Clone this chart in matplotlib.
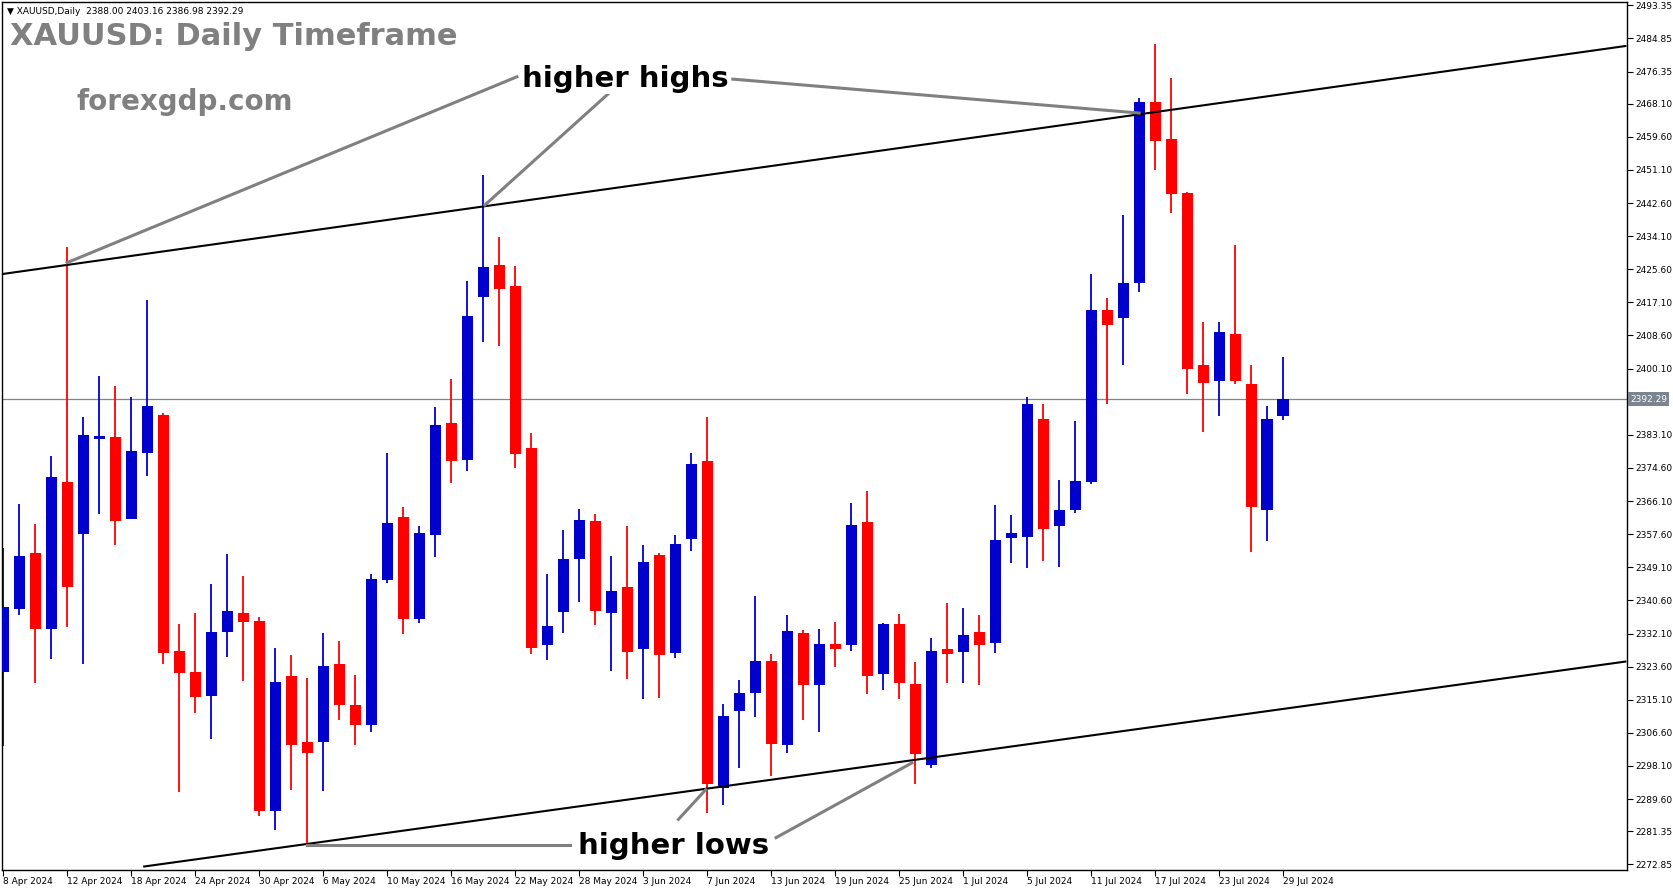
import numpy as np
import matplotlib.pyplot as plt

# OHLC daily values XAUUSD, 8 Apr 2024 -> 29 Jul 2024
opens = [2322.2, 2338.3, 2352.8, 2333.3, 2371.0, 2357.7, 2382.0, 2382.5, 2361.6, 2378.4,
         2388.2, 2327.6, 2322.2, 2316.1, 2332.4, 2337.4, 2335.3, 2286.5, 2321.2, 2304.3,
         2304.3, 2324.3, 2313.8, 2308.7, 2345.9, 2362.0, 2335.9, 2357.5, 2386.1, 2376.7,
         2418.6, 2426.7, 2421.3, 2379.7, 2329.2, 2337.7, 2351.3, 2361.0, 2337.4, 2344.0,
         2328.2, 2352.3, 2327.1, 2356.4, 2376.4, 2292.5, 2312.3, 2316.9, 2325.0, 2303.6,
         2332.2, 2319.0, 2329.4, 2329.2, 2360.7, 2321.6, 2334.6, 2319.1, 2298.3, 2328.2,
         2327.4, 2332.5, 2329.7, 2356.7, 2357.0, 2387.1, 2359.6, 2363.8, 2371.1, 2415.2,
         2413.2, 2422.1, 2468.5, 2459.0, 2445.2, 2401.0, 2396.8, 2409.0, 2396.1, 2363.8,
         2388.00]
highs = [2354.0, 2365.4, 2360.2, 2377.7, 2431.4, 2387.7, 2398.2, 2395.6, 2392.9, 2417.7,
         2388.7, 2334.5, 2337.4, 2344.8, 2352.5, 2346.9, 2336.4, 2328.4, 2326.6, 2320.7,
         2332.2, 2330.2, 2321.4, 2347.4, 2378.4, 2364.6, 2359.7, 2390.2, 2397.4, 2422.6,
         2449.8, 2433.9, 2426.4, 2383.6, 2347.4, 2358.7, 2364.1, 2362.8, 2352.1, 2359.7,
         2354.8, 2352.8, 2357.4, 2378.4, 2387.7, 2314.0, 2320.2, 2341.7, 2326.8, 2336.9,
         2333.0, 2333.3, 2335.1, 2365.6, 2368.7, 2334.8, 2337.1, 2324.9, 2330.9, 2339.9,
         2338.6, 2336.9, 2365.2, 2362.5, 2392.8, 2391.0, 2371.5, 2386.6, 2424.4, 2418.2,
         2439.5, 2469.5, 2483.5, 2474.7, 2445.4, 2412.1, 2412.1, 2431.7, 2401.0, 2390.6,
         2403.16]
lows = [2303.2, 2336.9, 2319.3, 2325.5, 2333.8, 2324.4, 2362.7, 2354.7, 2361.6, 2372.6,
        2324.4, 2291.5, 2311.8, 2305.1, 2326.2, 2320.0, 2285.2, 2281.7, 2292.0, 2277.5,
        2291.8, 2310.0, 2303.5, 2306.7, 2345.1, 2332.1, 2334.9, 2351.8, 2370.8, 2373.8,
        2407.0, 2406.0, 2374.7, 2326.9, 2325.4, 2332.3, 2340.3, 2334.4, 2322.6, 2320.5,
        2315.2, 2315.6, 2325.9, 2353.3, 2286.1, 2288.0, 2297.7, 2310.8, 2295.6, 2301.5,
        2310.0, 2306.7, 2323.6, 2327.7, 2316.7, 2317.7, 2315.4, 2293.4, 2297.5, 2319.4,
        2319.4, 2318.9, 2327.1, 2350.3, 2348.8, 2350.8, 2349.3, 2363.0, 2370.5, 2391.1,
        2401.1, 2419.8, 2451.2, 2440.1, 2393.6, 2383.7, 2388.0, 2396.1, 2353.1, 2355.8,
        2386.98]
closes = [2338.8, 2352.1, 2333.3, 2372.2, 2344.0, 2383.1, 2382.8, 2361.0, 2379.0, 2390.5,
          2327.1, 2322.0, 2315.9, 2332.4, 2337.9, 2335.1, 2286.5, 2319.7, 2303.5, 2301.5,
          2323.8, 2313.8, 2308.7, 2346.1, 2360.5, 2335.9, 2357.9, 2385.6, 2376.5, 2413.6,
          2426.2, 2420.6, 2378.3, 2328.5, 2334.0, 2351.2, 2361.2, 2338.0, 2343.0, 2327.4,
          2350.5, 2326.7, 2355.1, 2375.6, 2293.4, 2310.9, 2316.8, 2325.0, 2303.8, 2332.7,
          2319.0, 2329.4, 2328.2, 2359.9, 2321.3, 2334.6, 2319.5, 2301.3, 2327.6, 2326.8,
          2331.7, 2329.2, 2356.1, 2357.9, 2391.0, 2359.0, 2363.8, 2371.2, 2415.2, 2411.4,
          2422.0, 2468.5, 2458.4, 2444.8, 2400.1, 2396.3, 2409.5, 2397.0, 2364.6, 2387.1,
          2392.29]

datoer = ["8 Apr 2024", "12 Apr 2024", "18 Apr 2024", "24 Apr 2024", "30 Apr 2024", "6 May 2024",
          "10 May 2024", "16 May 2024", "22 May 2024", "28 May 2024", "3 Jun 2024", "7 Jun 2024",
          "13 Jun 2024", "19 Jun 2024", "25 Jun 2024", "1 Jul 2024", "5 Jul 2024", "11 Jul 2024",
          "17 Jul 2024", "23 Jul 2024", "29 Jul 2024"]
pris_etiketter = [2493.35, 2484.85, 2476.35, 2468.10, 2459.60, 2451.10, 2442.60, 2434.10, 2425.60,
                  2417.10, 2408.60, 2400.10, 2383.10, 2374.60, 2366.10, 2357.60, 2349.10, 2340.60,
                  2332.10, 2323.60, 2315.10, 2306.60, 2298.10, 2289.60, 2281.35, 2272.85]
siste_pris = 2392.29

# trend channel (candle index, price)
ovre_linje = ([-0.2, 101.4], [2424.3, 2482.9])
nedre_linje = ([8.8, 101.4], [2272.3, 2324.9])

BLA = "#0000CC"
ROD = "#FF0000"

fig = plt.figure(figsize=(16.73, 8.88), dpi=100)
ax = fig.add_axes([2 / 1673, 18 / 888, 1625 / 1673, 868 / 888])

x = np.arange(len(opens))
o = np.array(opens)
c = np.array(closes)
farger = [BLA if cl >= op else ROD for op, cl in zip(o, c)]

ax.vlines(x, lows, highs, colors=farger, linewidth=1.3, zorder=2)
bunn = np.minimum(o, c)
hoyde = np.maximum(np.abs(c - o), 0.5)
ax.bar(x, hoyde, bottom=bunn, width=0.7, color=farger, zorder=3)

ax.plot(*ovre_linje, color="black", linewidth=1.5, zorder=4)
ax.plot(*nedre_linje, color="black", linewidth=1.5, zorder=4)
ax.axhline(siste_pris, color="#7a8590", linewidth=0.9, zorder=1)

# annotation pointer lines
grå = "#808080"
for (x0, y0), (x1, y1) in [((32.1, 2475.0), (3.98, 2427.3)),
                           ((37.8, 2470.6), (30.1, 2442.1)),
                           ((45.6, 2474.4), (71.0, 2465.7)),
                           ((35.4, 2277.8), (19.0, 2277.8)),
                           ((42.2, 2284.4), (43.9, 2292.0)),
                           ((48.3, 2279.7), (56.8, 2298.9))]:
    ax.plot([x0, x1], [y0, y1], color=grå, linewidth=2.2, zorder=5)

ax.text(38.9, 2474.5, "higher highs", fontsize=21, fontweight="bold", ha="center", va="center",
        color="black", zorder=6, bbox=dict(facecolor="white", edgecolor="none", pad=1))
ax.text(41.9, 2277.5, "higher lows", fontsize=21, fontweight="bold", ha="center", va="center",
        color="black", zorder=6, bbox=dict(facecolor="white", edgecolor="none", pad=1))

ax.text(0.005, 0.96, "XAUUSD: Daily Timeframe", transform=ax.transAxes, fontsize=22,
        fontweight="bold", color=grå, va="center", zorder=6)
ax.text(0.046, 0.885, "forexgdp.com", transform=ax.transAxes, fontsize=20,
        fontweight="bold", color=grå, va="center", zorder=6)
ax.text(0.003, 0.994, "\u25bc XAUUSD,Daily  2388.00 2403.16 2386.98 2392.29", transform=ax.transAxes,
        fontsize=6.5, color="black", va="top", zorder=6)

ax.set_xlim(-0.09, 101.5)
ax.set_ylim(2271.4, 2494.2)

ax.yaxis.tick_right()
ax.set_yticks(pris_etiketter)
ax.set_yticklabels([f"{p:.2f}" for p in pris_etiketter], fontsize=6.5)
ax.tick_params(axis="y", length=4, pad=2)
ax.set_xticks(np.arange(0, len(opens), 4))
ax.set_xticklabels(datoer, fontsize=6.5, ha="left")
ax.tick_params(axis="x", length=4, pad=1)

ax.text(1.002, siste_pris, f"{siste_pris:.2f}", transform=ax.get_yaxis_transform(), fontsize=6.5,
        color="white", va="center", ha="left",
        bbox=dict(facecolor="#7a8590", edgecolor="none", pad=1.5))

for s in ax.spines.values():
    s.set_linewidth(1.0)

fig.savefig("out.png", dpi=100)
